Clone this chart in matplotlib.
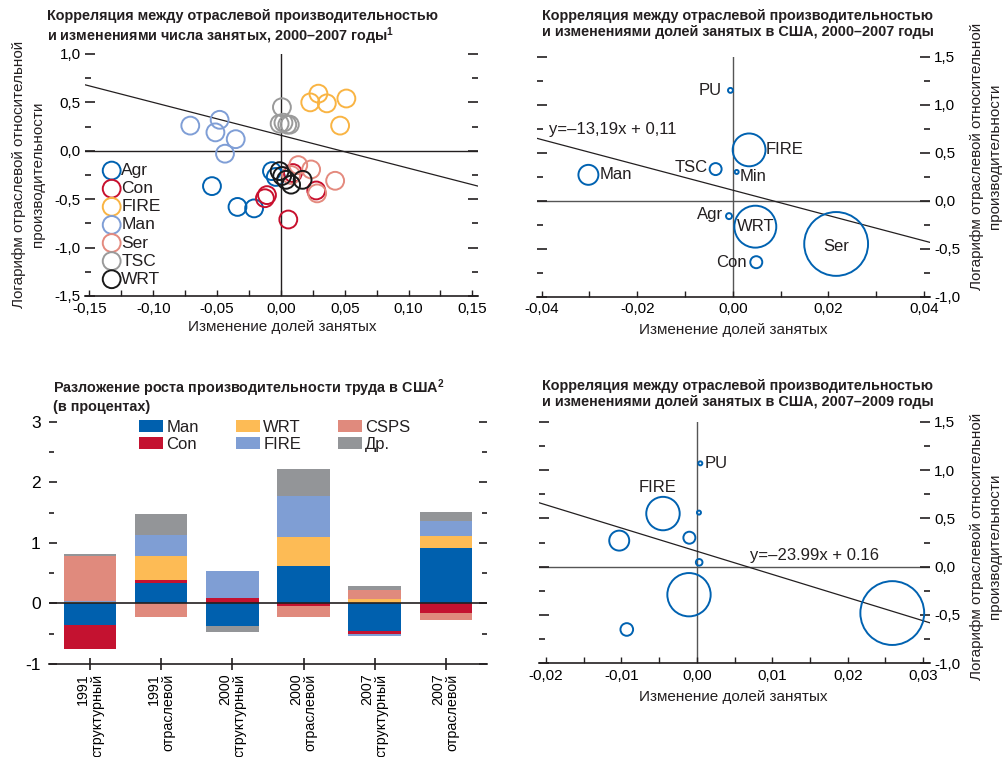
import matplotlib
matplotlib.use('Agg')
import matplotlib.pyplot as plt
import numpy as np
from matplotlib import font_manager
from matplotlib.ticker import MultipleLocator, FuncFormatter


def pick_font(names):
    for n in names:
        try:
            font_manager.findfont(font_manager.FontProperties(family=n),
                                  fallback_to_default=False)
            return n
        except ValueError:
            pass
    return 'DejaVu Sans'


FONT = pick_font(['Liberation Sans Narrow', 'Liberation Sans'])
plt.rcParams['font.family'] = [FONT, 'DejaVu Sans']
plt.rcParams['mathtext.fontset'] = 'custom'
plt.rcParams['mathtext.rm'] = FONT
plt.rcParams['mathtext.bf'] = FONT + ':bold'
plt.rcParams['text.color'] = '#231F20'

# ---- данные: доля занятых vs относительная производительность, 2000-2007
sectors = ['Agr', 'Con', 'FIRE', 'Man', 'Ser', 'TSC', 'WRT']
sector_colors = ['#0062B1', '#C8102E', '#F9B443', '#7F9ED6', '#E48A7E', '#9A9A9A', '#1A1A1A']
agr_dx = [-0.054, -0.034, -0.021, -0.007, -0.004]
agr_lp = [-0.365, -0.58, -0.595, -0.21, -0.27]
con_dx = [-0.0109, -0.0125, 0.0058, 0.0094, 0.0277]
con_lp = [-0.458, -0.49, -0.71, -0.23, -0.41]
fire_dx = [0.0294, 0.023, 0.036, 0.0513, 0.0464]
fire_lp = [0.59, 0.50, 0.49, 0.54, 0.26]
man_dx = [-0.071, -0.048, -0.0513, -0.0354, -0.0438]
man_lp = [0.26, 0.32, 0.19, 0.12, -0.03]
ser_dx = [0.0136, 0.0237, 0.0425, 0.0284, 0.008]
ser_lp = [-0.148, -0.193, -0.31, -0.44, -0.25]
tsc_dx = [0.0008, -0.001, 0.002, 0.005, 0.007]
tsc_lp = [0.45, 0.28, 0.29, 0.27, 0.27]
wrt_dx = [-0.001, 0.001, 0.004, 0.008, 0.017]
wrt_lp = [-0.21, -0.26, -0.30, -0.35, -0.30]
fit1_slope, fit1_icpt = -3.4, 0.16

# ---- США 2000-2007
us1_names = ['PU', 'FIRE', 'TSC', 'Min', 'Man', 'Agr', 'WRT', 'Ser', 'Con']
us1_dx = [-0.0005, 0.0034, -0.0036, 0.0008, -0.0302, -0.0008, 0.0047, 0.0216, 0.0049]
us1_lp = [1.15, 0.53, 0.33, 0.30, 0.27, -0.16, -0.27, -0.45, -0.64]
us1_emp = [0.6, 27, 3.6, 0.4, 10, 0.9, 44, 102, 3.6]
fit2_slope, fit2_icpt = -13.19, 0.11

# ---- США 2007-2009
us2_names = ['PU', 'FIRE', '', '', '', '', '', '', '']
us2_dx = [0.00045, -0.0045, 0.00027, -0.0103, -0.001, 0.0003, -0.00105, -0.0093, 0.0259]
us2_lp = [1.07, 0.55, 0.56, 0.27, 0.30, 0.045, -0.29, -0.65, -0.48]
us2_emp = [0.4, 28, 0.4, 10, 3.6, 1.1, 47, 4, 102]
fit3_slope, fit3_icpt = -23.99, 0.16

# ---- разложение роста производительности
periods = ['1991\nструктурный', '1991\nотраслевой', '2000\nструктурный',
           '2000\nотраслевой', '2007\nструктурный', '2007\nотраслевой']
comp_names = ['Man', 'Con', 'WRT', 'FIRE', 'CSPS', 'Др.']
comp_colors = ['#0060AE', '#C41230', '#FDBB55', '#7F9ED4', '#E08A7D', '#939598']
man_c = [-0.36, 0.33, -0.37, 0.62, -0.46, 0.91]
con_c = [-0.39, 0.06, 0.09, -0.04, -0.05, -0.16]
wrt_c = [0.02, 0.40, 0.0, 0.48, 0.07, 0.20]
fire_c = [0.02, 0.34, 0.45, 0.68, -0.02, 0.25]
csps_c = [0.74, -0.22, 0.0, -0.19, 0.15, -0.12]
oth_c = [0.04, 0.35, -0.10, 0.44, 0.06, 0.15]

INK = '#231F20'
TICK_FS = 11
LBL_FS = 12
AXL_FS = 11
TITLE_FS = 10.4


def comma(fmt):
    def f(v, p):
        if abs(v) < 1e-9:
            v = 0.0
        return fmt.format(v).replace('.', ',')
    return FuncFormatter(f)


def style_scatter_axes(ax, xlim, ylim, xmaj, xmin, labels_right):
    ax.set_xlim(*xlim)
    ax.set_ylim(*ylim)
    for s in ['top', 'left', 'right']:
        ax.spines[s].set_visible(False)
    ax.spines['bottom'].set_linewidth(1.2)
    ax.spines['bottom'].set_color(INK)
    ax.xaxis.set_major_locator(MultipleLocator(xmaj))
    ax.xaxis.set_minor_locator(MultipleLocator(xmin))
    ax.yaxis.set_major_locator(MultipleLocator(0.5))
    ax.yaxis.set_minor_locator(MultipleLocator(0.25))
    ax.xaxis.set_major_formatter(comma('{:.2f}'))
    ax.yaxis.set_major_formatter(comma('{:.1f}'))
    ax.tick_params(axis='x', which='both', direction='in', length=4, width=1,
                   color=INK, labelsize=TICK_FS, pad=4)
    ax.tick_params(axis='y', which='major', direction='in', length=7, width=1.2,
                   color=INK, left=True, right=True, labelsize=TICK_FS,
                   labelleft=not labels_right, labelright=labels_right, pad=3)
    ax.tick_params(axis='y', which='minor', direction='in', length=4, width=1.2,
                   color=INK, left=True, right=True)
    ax.set_facecolor('none')


fig = plt.figure(figsize=(10.08, 7.57), dpi=100)

# ------------------------------------------------------------ панель 1
ax1 = fig.add_axes([0.0843, 0.609, 0.390, 0.3197])
style_scatter_axes(ax1, (-0.1535, 0.1545), (-1.5, 1.0), 0.05, 0.025, False)
ax1.axhline(0, color=INK, lw=1.0, zorder=1)
ax1.axvline(0, color=INK, lw=1.0, zorder=1)
xs = np.array(ax1.get_xlim())
ax1.plot(xs, fit1_slope * xs + fit1_icpt, color=INK, lw=0.9, zorder=1)
groups = [(agr_dx, agr_lp), (con_dx, con_lp), (fire_dx, fire_lp), (man_dx, man_lp),
          (ser_dx, ser_lp), (tsc_dx, tsc_lp), (wrt_dx, wrt_lp)]
for name, col, (gx, gy) in zip(sectors, sector_colors, groups):
    ax1.scatter(gx, gy, s=165, facecolors='none', edgecolors=col, linewidths=1.4,
                label=name, zorder=3)
ax1.legend(loc='upper left', bbox_to_anchor=(103 / 1008, 1 - 163 / 757),
           bbox_transform=fig.transFigure, frameon=False, fontsize=12.5,
           scatterpoints=1, handlelength=1.0, handletextpad=0.05,
           labelspacing=0.17, borderpad=0, borderaxespad=0)

# ------------------------------------------------------------ панель 2
ax2 = fig.add_axes([0.5325, 0.608, 0.390, 0.317])
style_scatter_axes(ax2, (-0.041, 0.0412), (-1.0, 1.5), 0.02, 0.01, True)
ax2.axhline(0, color='#555555', lw=1.0, zorder=1)
ax2.axvline(0, color='#555555', lw=1.0, zorder=1)
xs = np.array(ax2.get_xlim())
ax2.plot(xs, fit2_slope * xs + fit2_icpt, color=INK, lw=0.9, zorder=1)
ax2.scatter(us1_dx, us1_lp, s=np.array(us1_emp) * 20.7, facecolors='none',
            edgecolors='#0062B1', linewidths=1.4, zorder=3)
# смещения подписей (в пунктах) и выравнивание
lbl_off = {'PU': (-6, 0, 'right'), 'FIRE': (12, 0, 'left'), 'TSC': (-6, 1, 'right'),
           'Min': (2, -3, 'left'), 'Man': (8, 0, 'left'), 'Agr': (-4, 1, 'right'),
           'WRT': (0, 0, 'center'), 'Ser': (0, -2, 'center'), 'Con': (-7, 0, 'right')}
for n, x, y in zip(us1_names, us1_dx, us1_lp):
    dx, dy, ha = lbl_off[n]
    ax2.annotate(n, (x, y), xytext=(dx, dy), textcoords='offset points',
                 ha=ha, va='center', fontsize=LBL_FS, zorder=4)
ax2.text(-0.0384, 0.74, 'y=–13,19x + 0,11', fontsize=LBL_FS, va='center', ha='left')

# ------------------------------------------------------------ панель 4
ax4 = fig.add_axes([0.535, 0.1238, 0.3876, 0.319])
style_scatter_axes(ax4, (-0.0209, 0.0309), (-1.0, 1.5), 0.01, 0.005, True)
ax4.axhline(0, color='#555555', lw=1.0, zorder=1)
ax4.axvline(0, color='#555555', lw=1.0, zorder=1)
xs = np.array(ax4.get_xlim())
ax4.plot(xs, fit3_slope * xs + fit3_icpt, color=INK, lw=0.9, zorder=1)
ax4.scatter(us2_dx, us2_lp, s=np.array(us2_emp) * 20.7, facecolors='none',
            edgecolors='#0062B1', linewidths=1.4, zorder=3)
lbl_off4 = {'PU': (3, 0, 'left', 'center'), 'FIRE': (-4, 19, 'center', 'center')}
for n, x, y in zip(us2_names, us2_dx, us2_lp):
    if n:
        dx, dy, ha, va = lbl_off4[n]
        ax4.annotate(n, (x, y), xytext=(dx, dy), textcoords='offset points',
                     ha=ha, va=va, fontsize=LBL_FS, zorder=4)
ax4.text(0.00703, 0.121, 'y=–23.99x + 0.16', fontsize=LBL_FS, va='center', ha='left')

# ------------------------------------------------------------ панель 3 (столбцы)
ax3 = fig.add_axes([0.0486, 0.1229, 0.4345, 0.320])
pos = np.arange(len(periods))
series = [man_c, con_c, wrt_c, fire_c, csps_c, oth_c]
up = np.zeros(len(periods))
down = np.zeros(len(periods))
for name, col, vals in zip(comp_names, comp_colors, series):
    vals = np.array(vals)
    base = np.where(vals >= 0, up, down)
    ax3.bar(pos, vals, bottom=base, width=0.735, color=col, label=name,
            edgecolor='none', zorder=2)
    up = up + np.clip(vals, 0, None)
    down = down + np.clip(vals, None, 0)
ax3.axhline(0, color=INK, lw=1.2, zorder=3)
ax3.set_xlim(-0.58, 5.58)
ax3.set_ylim(-1, 3)
for s in ['top', 'left', 'right']:
    ax3.spines[s].set_visible(False)
ax3.spines['bottom'].set_linewidth(1.2)
ax3.spines['bottom'].set_color(INK)
ax3.set_xticks(pos)
ax3.set_xticklabels(periods, rotation=90, ha='center', va='top',
                    multialignment='right', fontsize=10.3, linespacing=1.0)
ax3.yaxis.set_major_locator(MultipleLocator(1))
ax3.yaxis.set_minor_locator(MultipleLocator(0.5))
ax3.yaxis.set_major_formatter(FuncFormatter(lambda v, p: '{:d}'.format(int(round(v)))))
ax3.tick_params(axis='x', direction='inout', length=8, width=1.2, color=INK, pad=3)
ax3.tick_params(axis='y', which='major', direction='in', length=6, width=1.2,
                color=INK, left=True, right=True, labelsize=12.5, pad=6)
ax3.tick_params(axis='y', which='minor', direction='in', length=3.5, width=1.2,
                color=INK, left=True, right=True)
ax3.set_facecolor('none')
ax3.legend(loc='upper left', bbox_to_anchor=(139 / 1008, 1 - 420 / 757),
           bbox_transform=fig.transFigure, ncol=3, frameon=False, fontsize=12,
           handlelength=1.45, handleheight=0.75, handletextpad=0.2,
           labelspacing=0.12, columnspacing=2.2, borderpad=0, borderaxespad=0)

# ------------------------------------------------------------ заголовки и подписи осей
fig.text(47 / 1008, 1 - 9 / 757,
         'Корреляция между отраслевой производительностью\n'
         'и изменениями числа занятых, 2000–2007 годы$^{\\mathbf{1}}$',
         fontsize=TITLE_FS, fontweight='bold', va='top', ha='left', linespacing=1.15)
fig.text(542 / 1008, 1 - 9 / 757,
         'Корреляция между отраслевой производительностью\n'
         'и изменениями долей занятых в США, 2000–2007 годы',
         fontsize=TITLE_FS, fontweight='bold', va='top', ha='left', linespacing=1.15)
fig.text(53 / 1008, 1 - 377 / 757,
         'Разложение роста производительности труда в США$^{\\mathbf{2}}$\n'
         '(в процентах)',
         fontsize=TITLE_FS, fontweight='bold', va='top', ha='left', linespacing=1.1)
fig.text(542 / 1008, 1 - 379 / 757,
         'Корреляция между отраслевой производительностью\n'
         'и изменениями долей занятых в США, 2007–2009 годы',
         fontsize=TITLE_FS, fontweight='bold', va='top', ha='left', linespacing=1.15)

ylab = 'Логарифм отраслевой относительной\nпроизводительности'
fig.text(28.5 / 1008, 1 - 174 / 757, ylab, rotation=90, fontsize=AXL_FS,
         ha='center', va='center', multialignment='center', linespacing=1.45)
fig.text(986 / 1008, 1 - 156 / 757, ylab, rotation=90, fontsize=AXL_FS,
         ha='center', va='center', multialignment='center', linespacing=1.45)
fig.text(986 / 1008, 1 - 546 / 757, ylab, rotation=90, fontsize=AXL_FS,
         ha='center', va='center', multialignment='center', linespacing=1.45)

xlab = 'Изменение долей занятых'
fig.text(282 / 1008, 1 - 327 / 757, xlab, fontsize=AXL_FS, ha='center', va='center')
fig.text(733 / 1008, 1 - 330 / 757, xlab, fontsize=AXL_FS, ha='center', va='center')
fig.text(733 / 1008, 1 - 697 / 757, xlab, fontsize=AXL_FS, ha='center', va='center')

fig.savefig('out.png', dpi=100, facecolor='white')
